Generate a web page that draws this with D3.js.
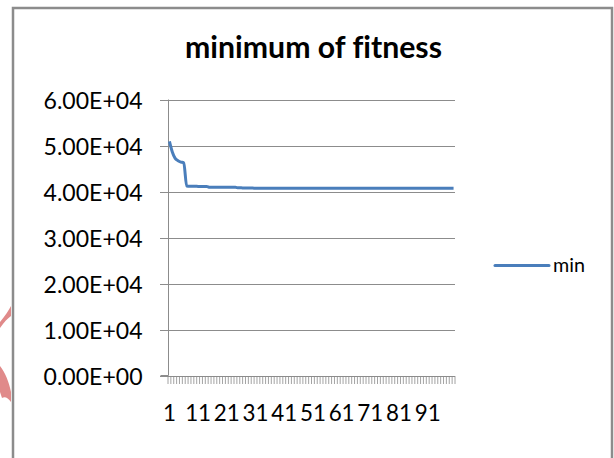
<!DOCTYPE html>
<html><head><meta charset="utf-8">
<script src="https://cdn.jsdelivr.net/npm/d3@7"></script>
<style>body{margin:0;background:#fff}svg{display:block}text{font-variant-ligatures:none;font-feature-settings:"liga" 0}</style>
</head><body>
<script>
// Data
const categories = d3.range(1, 101);
const minValues = [
  50900, 48600, 47200, 46700, 46400, 46250, 41200, 41150, 41150, 41150,
  41100, 41100, 41100, 41100, 40900, 40900, 40900, 40900, 40900, 40900,
  40900, 40900, 40900, 40900, 40800, 40800, 40750, 40750, 40750, 40750,
  40700, 40700, 40700, 40700, 40700, 40700, 40700, 40700, 40700, 40700,
  40700, 40700, 40700, 40700, 40700, 40700, 40700, 40700, 40700, 40700,
  40700, 40700, 40700, 40700, 40700, 40700, 40700, 40700, 40700, 40700,
  40700, 40700, 40700, 40700, 40700, 40700, 40700, 40700, 40700, 40700,
  40700, 40700, 40700, 40700, 40700, 40700, 40700, 40700, 40700, 40700,
  40700, 40700, 40700, 40700, 40700, 40700, 40700, 40700, 40700, 40700,
  40700, 40700, 40700, 40700, 40700, 40700, 40700, 40700, 40700, 40700
];
const yTicks = [0, 10000, 20000, 30000, 40000, 50000, 60000];
const xLabelCats = [1, 11, 21, 31, 41, 51, 61, 71, 81, 91];
const seriesName = "min";
const title = "minimum of fitness";

const W = 614, H = 458;
const svg = d3.select("body").append("svg").attr("width", W).attr("height", H);
const font = "Lato, 'Open Sans', sans-serif";

// scale a text selection's font so that a sample node reaches a target width
function fitFont(sel, sampleNode, targetWidth) {
  const base = 20;
  sel.attr("font-size", base);
  const w = sampleNode.getComputedTextLength();
  const size = base * targetWidth / w;
  sel.attr("font-size", size);
  return size;
}

// frame
svg.append("rect").attr("x", 13).attr("y", 8).attr("width", 599).attr("height", 460)
  .attr("fill", "#fff").attr("stroke", "#8c8c8c").attr("stroke-width", 2.5);

// watermark fragments at left edge
svg.append("path").attr("d", "M0,322 C5,316 9,310 11,306 L11,316 C8,318 4,322 0,328 Z").attr("fill", "#e08a8a");
svg.append("path").attr("d", "M0,366 C5,372 9,382 11,392 L11,402 C8,398 5,396 2,398 L0,392 Z").attr("fill", "#e08a8a");

const plot = {left: 168, right: 455, top: 99.5, bottom: 375.5};
const x = d3.scaleBand().domain(categories).range([plot.left, plot.right]).paddingInner(0).paddingOuter(0);
const y = d3.scaleLinear().domain([0, 60000]).range([plot.bottom, plot.top]);

// gridlines
svg.append("g").selectAll("line").data(yTicks.filter(d => d > 0)).join("line")
  .attr("x1", plot.left - 8).attr("x2", plot.right)
  .attr("y1", d => Math.round(y(d)) + 0.5).attr("y2", d => Math.round(y(d)) + 0.5)
  .attr("stroke", "#8c8c8c").attr("stroke-width", 1);

// y axis
const yAxis = d3.axisLeft(y).tickValues(yTicks).tickSize(8)
  .tickFormat(d => d3.format(".2e")(d).replace("e+", "E+0").replace("e-", "E-0"));
const gy = svg.append("g").attr("transform", `translate(${plot.left + 0.5},0.5)`).call(yAxis);
gy.attr("font-family", null).attr("font-size", null);
gy.select(".domain").attr("stroke", "#8c8c8c").attr("d", `M-8,${plot.bottom - 0.5}H0V${plot.top - 0.5}`);
gy.selectAll(".tick line").attr("stroke", "#8c8c8c");
const yTexts = gy.selectAll(".tick text").attr("x", -26).attr("font-family", font)
  .attr("fill", "#000").attr("dy", "0.36em");
fitFont(yTexts, yTexts.nodes()[5], 99);

// x axis
const xTickPos = categories.map(c => x(c)).concat([plot.right]);
svg.append("line").attr("x1", plot.left - 8).attr("x2", plot.right)
  .attr("y1", Math.round(plot.bottom) + 0.5).attr("y2", Math.round(plot.bottom) + 0.5)
  .attr("stroke", "#8c8c8c");
svg.append("g").selectAll("line").data(xTickPos).join("line")
  .attr("x1", d => d).attr("x2", d => d)
  .attr("y1", Math.round(plot.bottom)).attr("y2", Math.round(plot.bottom) + 8)
  .attr("stroke", "#8c8c8c").attr("stroke-width", 0.8);
const xTexts = svg.append("g").selectAll("text").data(xLabelCats).join("text")
  .attr("x", d => x(d) + x.bandwidth() / 2).attr("y", 421)
  .attr("text-anchor", "middle").attr("font-family", font)
  .attr("fill", "#000").text(d => d);
fitFont(xTexts, xTexts.nodes()[1], 26);

// line
const line = d3.line().x((d, i) => x(categories[i]) + x.bandwidth() / 2).y(d => y(d)).curve(d3.curveMonotoneX);
svg.append("path").datum(minValues).attr("d", line).attr("fill", "none")
  .attr("stroke", "#4a7ebb").attr("stroke-width", 3).attr("stroke-linejoin", "round");

// title
const t = svg.append("text").attr("x", 313.5).attr("y", 58).attr("text-anchor", "middle")
  .attr("font-family", font).attr("font-weight", "bold").text(title);
fitFont(t, t.node(), 257);

// legend
svg.append("line").attr("x1", 495).attr("x2", 549).attr("y1", 265.5).attr("y2", 265.5)
  .attr("stroke", "#4a7ebb").attr("stroke-width", 3).attr("stroke-linecap", "round");
const lt = svg.append("text").attr("x", 553).attr("y", 272).attr("font-family", font).text(seriesName);
fitFont(lt, lt.node(), 32);
</script>
</body></html>
